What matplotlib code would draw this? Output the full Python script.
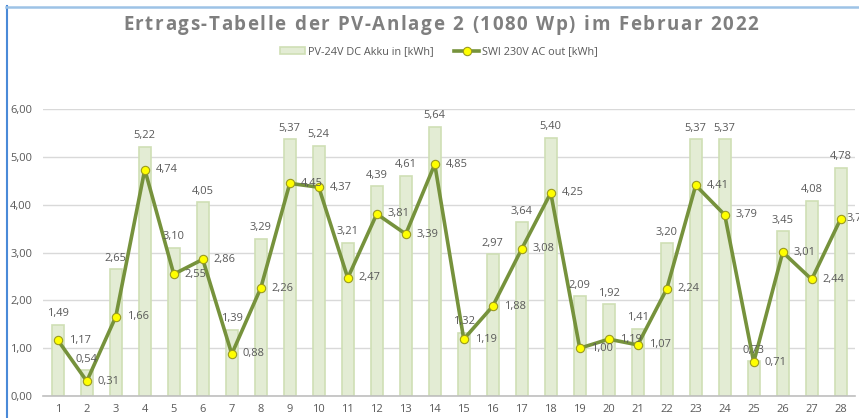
import matplotlib.pyplot as plt
from matplotlib.lines import Line2D

days = list(range(1, 29))
dc_in = [1.49, 0.54, 2.65, 5.22, 3.10, 4.05, 1.39, 3.29, 5.37, 5.24,
         3.21, 4.39, 4.61, 5.64, 1.32, 2.97, 3.64, 5.40, 2.09, 1.92,
         1.41, 3.20, 5.37, 5.37, 0.73, 3.45, 4.08, 4.78]
ac_out = [1.17, 0.31, 1.66, 4.74, 2.55, 2.86, 0.88, 2.26, 4.45, 4.37,
          2.47, 3.81, 3.39, 4.85, 1.19, 1.88, 3.08, 4.25, 1.00, 1.19,
          1.07, 2.24, 4.41, 3.79, 0.71, 3.01, 2.44, 3.71]
yticks = [0, 1, 2, 3, 4, 5, 6]
title = 'Ertrags-Tabelle der PV-Anlage 2 (1080 Wp) im Februar 2022'

plt.rcParams['font.family'] = ['Open Sans', 'DejaVu Sans']
txt = '#595959'
W, H = 859, 418


def de(v):
    return f"{v:.2f}".replace('.', ',')


fig = plt.figure(figsize=(8.59, 4.18), dpi=100)
ax = fig.add_axes([0.0504, 0.0526, 0.9452, 0.6859])

bars = ax.bar(days, dc_in, width=0.4, color='#e3ecd4', edgecolor='#cfdfb5',
              linewidth=1.2, label='PV-24V DC Akku in [kWh]', zorder=2)
line, = ax.plot(days, ac_out, color='#76923c', linewidth=2.6, marker='o',
                markersize=6, markerfacecolor='#ffff00', markeredgecolor='#9a9a20',
                markeredgewidth=0.8, label='SWI 230V AC out [kWh]', zorder=3)

for d, v in zip(days, dc_in):
    ax.annotate(de(v), (d, v), xytext=(0, 4), textcoords='offset points',
                ha='center', va='bottom', fontsize=8, color=txt,
                annotation_clip=False, zorder=4)
for d, v in zip(days, ac_out):
    # Excel pushes the last label inwards, it gets cut at the edge anyway
    off = 4 if d == days[-1] else 8
    ax.annotate(de(v), (d, v), xytext=(off, 0), textcoords='offset points',
                ha='left', va='center', fontsize=8, color=txt,
                annotation_clip=False, zorder=4)

ax.set_xlim(0.5, 28.5)
ax.set_ylim(0, 6)
ax.set_xticks(days)
ax.set_yticks(yticks)
ax.set_yticklabels([de(v) for v in yticks])
ax.grid(axis='y', color='#d9d9d9', linewidth=1, zorder=0)
ax.set_axisbelow(True)
for s in ['top', 'right', 'left']:
    ax.spines[s].set_visible(False)
ax.spines['bottom'].set_color('#bfbfbf')
ax.spines['bottom'].set_linewidth(1.2)
ax.tick_params(axis='both', length=0, labelsize=8, colors=txt)
ax.tick_params(axis='y', pad=8)
ax.tick_params(axis='x', pad=6)

# title with letter spacing, placed char by char
tsize = 13.5
renderer = fig.canvas.get_renderer()
widths = []
for ch in title:
    t = fig.text(0, 0, ch if ch != ' ' else 'n', fontsize=tsize, fontweight='bold')
    w = t.get_window_extent(renderer).width
    if ch == ' ':
        w = w * 0.45
    widths.append(w)
    t.remove()
x0, x1 = 123, 758
gap = (x1 - x0 - sum(widths)) / (len(title) - 1)
x = x0
for ch, w in zip(title, widths):
    if ch != ' ':
        fig.text(x / W, 1 - 30 / H, ch, ha='left', va='baseline', fontsize=tsize,
                 fontweight='bold', color='#7f7f7f')
    x += w + gap

fig.legend(handles=[bars, line], loc='center', bbox_to_anchor=(0.511, 0.876), ncol=2,
           frameon=False, fontsize=7.8, labelcolor=txt, handlelength=2.3,
           handleheight=0.5, columnspacing=1.9, handletextpad=0.3)

# blue frame at the top and left edge
fig.add_artist(Line2D([6.5 / W, 6.5 / W], [0, 1 - 6 / H],
                      transform=fig.transFigure, color='#4a8ad8', linewidth=1.5))
fig.add_artist(Line2D([6 / W, 1], [1 - 6.5 / H, 1 - 6.5 / H],
                      transform=fig.transFigure, color='#9dc3e6', linewidth=1.8))

fig.savefig('out.png', dpi=100)
